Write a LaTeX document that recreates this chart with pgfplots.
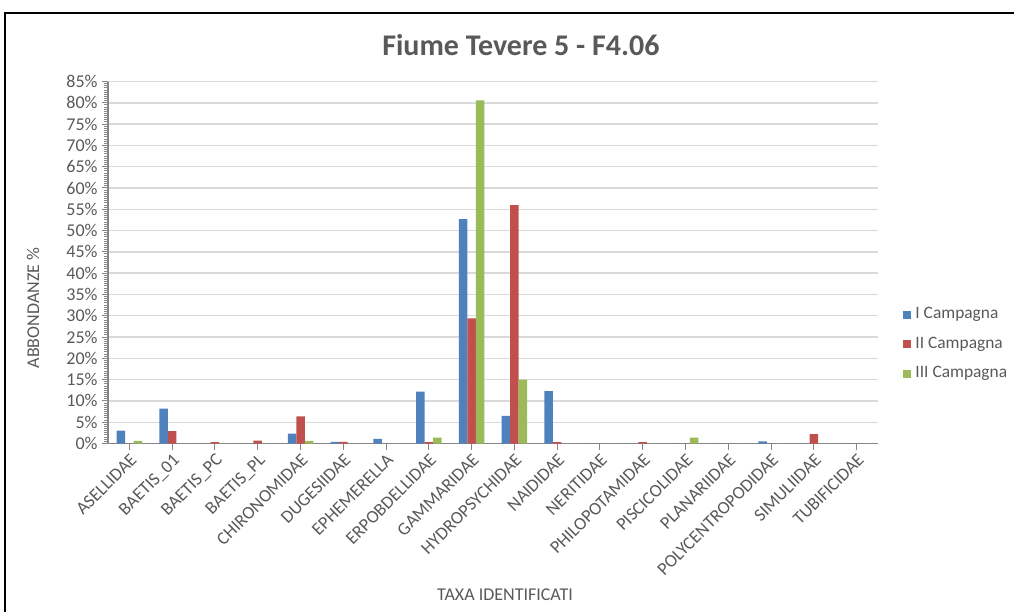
\documentclass[border=0pt]{standalone}
\usepackage{fontspec}
\setmainfont{Carlito}
\usepackage{pgfplots}
\pgfplotsset{compat=1.18}
\definecolor{cI}{HTML}{4F81BD}
\definecolor{cII}{HTML}{C0504D}
\definecolor{cIII}{HTML}{9BBB59}
\definecolor{txt}{HTML}{595959}
\definecolor{gridc}{HTML}{D9D9D9}
\definecolor{axc}{HTML}{868686}
\begin{document}
\begin{tikzpicture}
\useasboundingbox (0pt,0pt) rectangle (507pt,-306pt);
\draw[black, line width=1.2pt] (2.5pt,-306pt) -- (2.5pt,-6.5pt) -- (507pt,-6.5pt);
\node[anchor=base, font=\fontsize{15}{18}\selectfont\bfseries, text=txt] at (260.5pt,-27.5pt) {Fiume Tevere 5 - F4.06};
\node[font=\fontsize{9}{10.8}\selectfont, text=txt] at (252.5pt,-297.5pt) {TAXA IDENTIFICATI};
\node[rotate=90, font=\fontsize{9}{10.8}\selectfont, text=txt] at (16.5pt,-154pt) {ABBONDANZE \%};
\begin{axis}[
  at={(54pt,-221.75pt)}, anchor=south west,
  scale only axis, width=385pt, height=181pt,
  xmin=-0.5, xmax=17.5, ymin=0, ymax=85,
  xtick={0,...,17},
  xticklabels={ASELLIDAE,BAETIS\_01,BAETIS\_PC,BAETIS\_PL,CHIRONOMIDAE,DUGESIIDAE,EPHEMERELLA,ERPOBDELLIDAE,GAMMARIDAE,HYDROPSYCHIDAE,NAIDIDAE,NERITIDAE,PHILOPOTAMIDAE,PISCICOLIDAE,PLANARIIDAE,POLYCENTROPODIDAE,SIMULIIDAE,TUBIFICIDAE},
  ytick={0,5,...,85},
  yticklabels={0\%,5\%,10\%,15\%,20\%,25\%,30\%,35\%,40\%,45\%,50\%,55\%,60\%,65\%,70\%,75\%,80\%,85\%},
  minor y tick num=9,
  ymajorgrids, grid style={gridc, line width=0.7pt},
  axis x line*=bottom, axis y line*=left,
  axis line style={axc, line width=0.6pt},
  tick style={axc, line width=0.5pt},
  major tick length=3pt, minor tick length=2pt,
  tick align=outside,
  xticklabel style={rotate=45, anchor=north east, inner sep=1pt, font=\fontsize{9}{10.8}\selectfont, text=txt},
  yticklabel style={font=\fontsize{9}{10.8}\selectfont, text=txt, inner sep=2pt},
  ybar=0pt, bar width=4.25pt,
  legend style={at={(1.0325,0.388)}, anchor=north west, draw=none, fill=none,
    font=\fontsize{8.7}{10.4}\selectfont, text=txt, row sep=3.6pt, inner sep=0pt},
  legend cell align=left,
  legend image code/.code={\fill[#1,draw=none] (0pt,-2pt) rectangle (4pt,2pt);},
]
\addplot[fill=cI, draw=none] coordinates {(0,3.0) (1,8.2) (2,0) (3,0) (4,2.3) (5,0.4) (6,1.1) (7,12.2) (8,52.7) (9,6.5) (10,12.3) (11,0) (12,0) (13,0) (14,0) (15,0.5) (16,0) (17,0)};
\addplot[fill=cII, draw=none] coordinates {(0,0) (1,2.9) (2,0.3) (3,0.7) (4,6.4) (5,0.4) (6,0) (7,0.3) (8,29.4) (9,56.0) (10,0.3) (11,0) (12,0.3) (13,0) (14,0) (15,0) (16,2.2) (17,0)};
\addplot[fill=cIII, draw=none] coordinates {(0,0.6) (1,0) (2,0) (3,0) (4,0.6) (5,0) (6,0) (7,1.4) (8,80.6) (9,15.0) (10,0) (11,0) (12,0) (13,1.4) (14,0) (15,0) (16,0) (17,0)};
\legend{I Campagna, II Campagna, III Campagna}
\end{axis}
\end{tikzpicture}
\end{document}
